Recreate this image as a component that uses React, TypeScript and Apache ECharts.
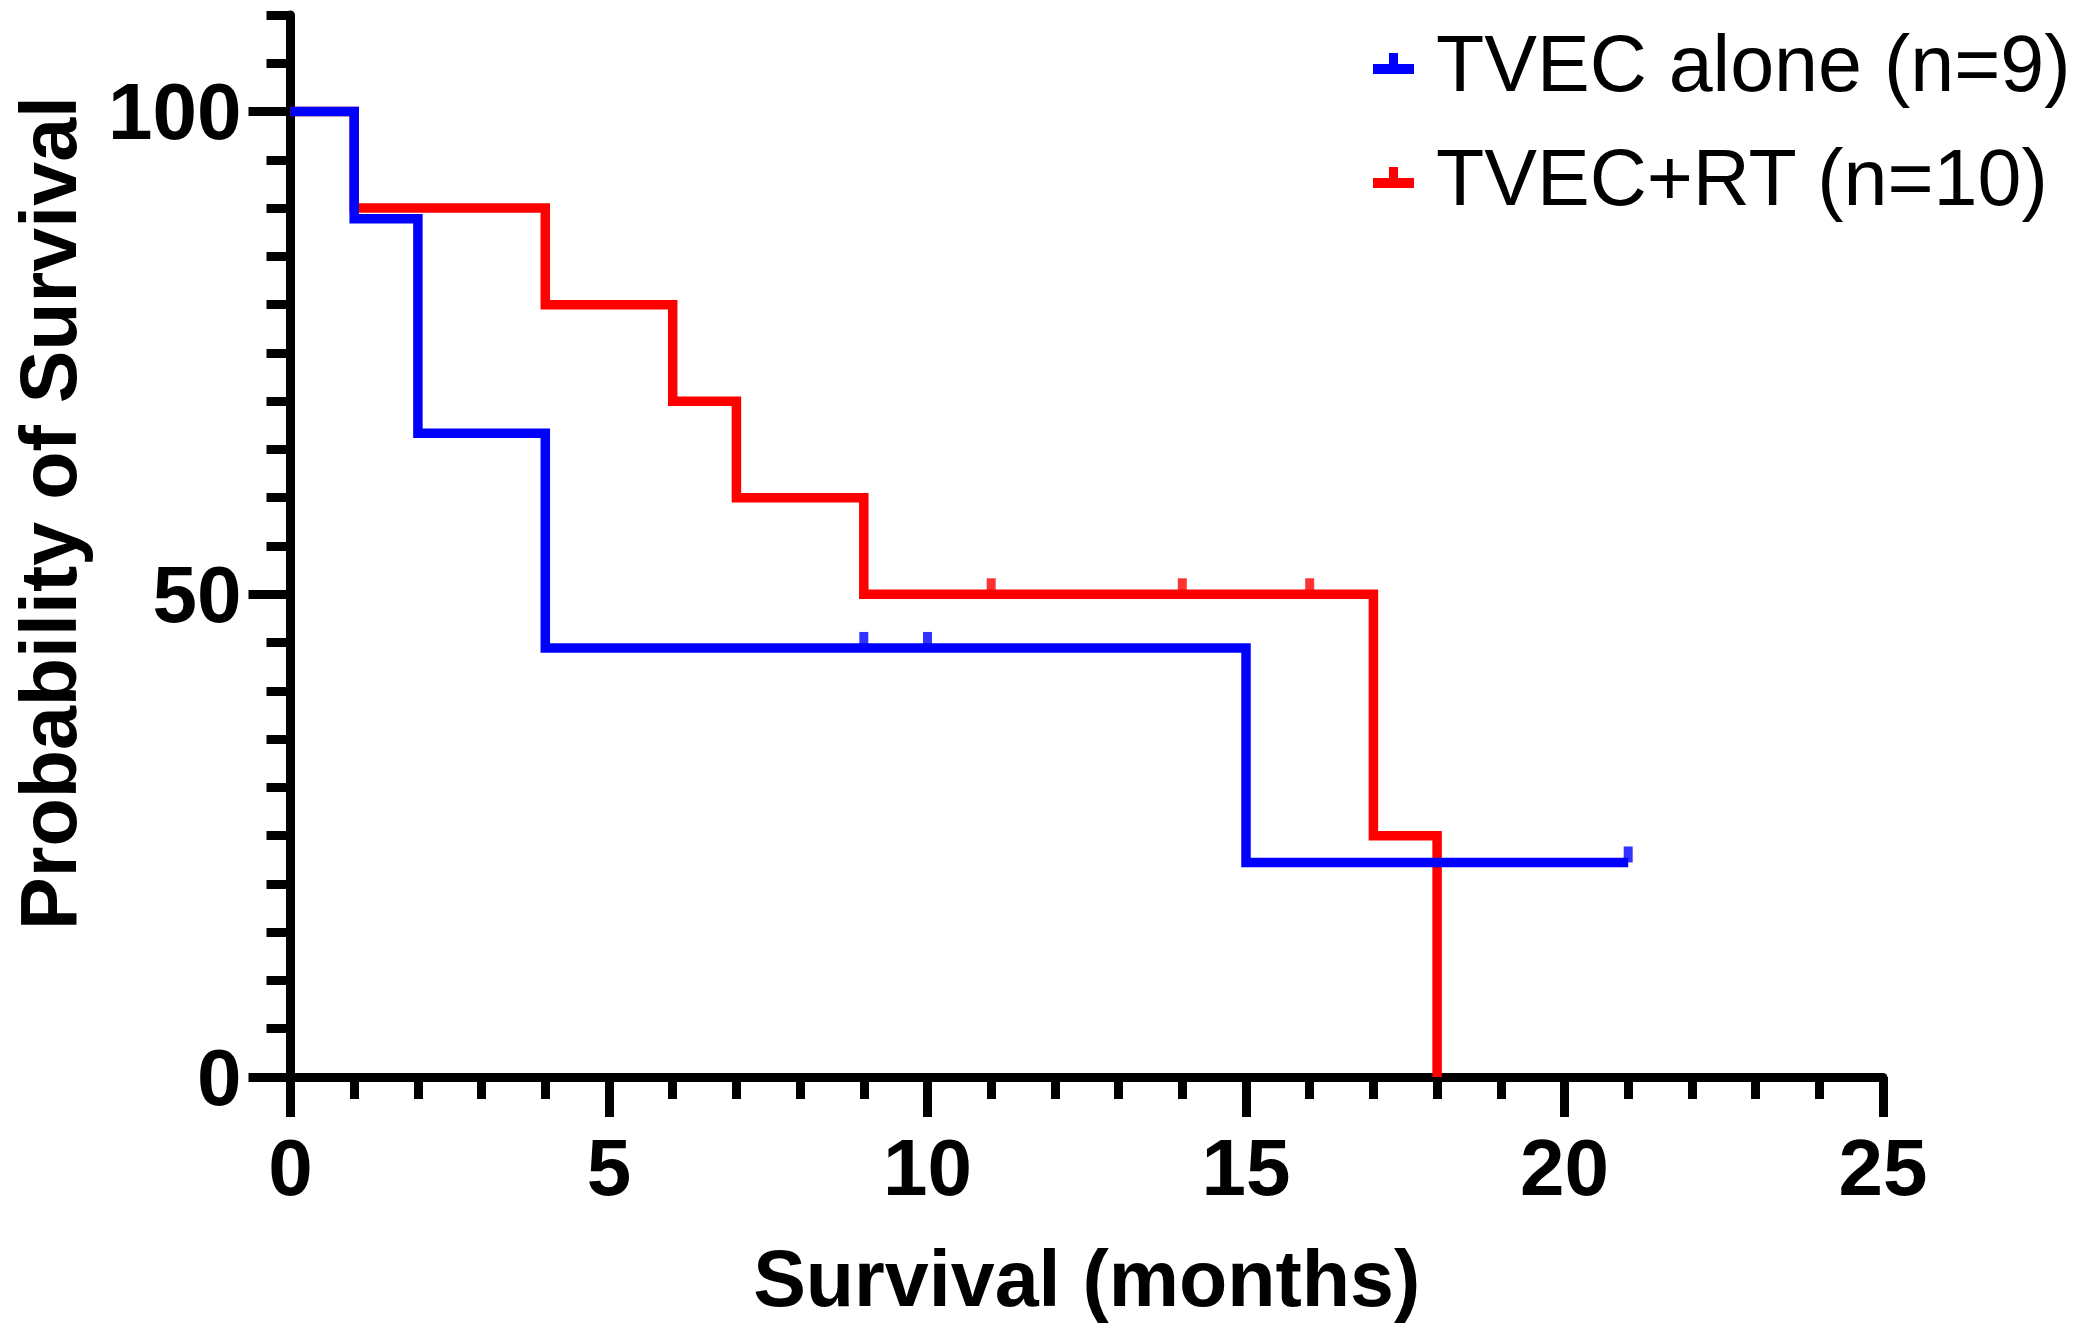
import React, { useEffect, useRef } from 'react';
import * as echarts from 'echarts';

const seriesNames = ['TVEC alone (n=9)', 'TVEC+RT (n=10)'];
const seriesColors = ['#0000ff', '#ff0000'];

// Kaplan-Meier steps: [month, survival %]
const tvecAloneSteps = [[0, 100], [1, 88.89], [2, 66.67], [4, 44.44], [15, 22.22], [21, 22.22]];
const tvecAloneCensored = [[9, 44.44], [10, 44.44], [21, 22.22]];
const tvecRtSteps = [[0, 100], [1, 90], [4, 80], [6, 70], [7, 60], [9, 50], [17, 25], [18, 0]];
const tvecRtCensored = [[11, 50], [14, 50], [16, 50]];

const yLabelValues = [0, 50, 100];
const yMinorTickValues = [5, 10, 15, 20, 25, 30, 35, 40, 45, 55, 60, 65, 70, 75, 80, 85, 90, 95, 105, 110];

const xTitle = 'Survival (months)';
const yTitle = 'Probability of Survival';

const FONT = "'Liberation Sans', Arial, sans-serif";
const legendIcon = 'path://M0,11H41V21H0Z M16,0H25V11H16Z';

export default function App() {
  const ref = useRef<HTMLDivElement>(null);
  useEffect(() => {
    document.body.style.margin = '0';
    document.body.style.overflow = 'hidden';
    const chart = echarts.init(ref.current as HTMLDivElement, null, { renderer: 'svg' });
    const lineSeries = (name: string, color: string, data: number[][], z: number) => ({
      name,
      type: 'line',
      step: 'end',
      data,
      symbol: 'none',
      showSymbol: false,
      clip: false,
      z,
      lineStyle: { color, width: 9.5, join: 'miter', cap: 'butt' },
      itemStyle: { color },
      emphasis: { disabled: true },
    });
    const censorSeries = (name: string, color: string, data: number[][], z: number) => ({
      name,
      type: 'scatter',
      data,
      symbol: 'rect',
      symbolSize: [9, 16],
      symbolOffset: [0, -8],
      clip: false,
      z,
      itemStyle: { color },
      emphasis: { disabled: true },
    });
    chart.setOption({
      animation: false,
      backgroundColor: '#ffffff',
      grid: { left: 290.5, top: 15, width: 1592.5, height: 1062, containLabel: false },
      legend: {
        orient: 'vertical',
        left: 1373,
        top: 23,
        padding: 0,
        itemWidth: 41,
        itemHeight: 21,
        itemGap: 33,
        selectedMode: false,
        data: [
          { name: seriesNames[0], icon: legendIcon },
          { name: seriesNames[1], icon: legendIcon },
        ],
        itemStyle: { borderWidth: 0 },
        textStyle: { fontSize: 79, fontFamily: FONT, color: '#000', lineHeight: 81, padding: [0, 0, 0, 17] },
      },
      xAxis: {
        type: 'value',
        min: 0,
        max: 25,
        interval: 5,
        name: xTitle,
        nameLocation: 'middle',
        nameGap: 162,
        nameTextStyle: { fontSize: 79, fontWeight: 'bold', fontFamily: FONT, color: '#000' },
        axisLine: { show: true, onZero: false, lineStyle: { color: '#000', width: 9 } },
        axisTick: { show: true, length: 40, lineStyle: { color: '#000', width: 9 } },
        minorTick: { show: true, splitNumber: 5, length: 22, lineStyle: { color: '#000', width: 9 } },
        axisLabel: { fontSize: 80, fontWeight: 'bold', fontFamily: FONT, color: '#000', margin: 50 },
        splitLine: { show: false },
      },
      yAxis: [
        {
          type: 'value',
          min: 0,
          max: 110,
          position: 'left',
          name: yTitle,
          nameLocation: 'middle',
          nameGap: 203,
          nameTextStyle: { fontSize: 79, fontWeight: 'bold', fontFamily: FONT, color: '#000', padding: [0, 0, 0, 66] },
          axisLine: { show: true, onZero: false, lineStyle: { color: '#000', width: 9 } },
          axisTick: { show: true, customValues: yLabelValues, length: 42, lineStyle: { color: '#000', width: 9 } },
          axisLabel: { customValues: yLabelValues, fontSize: 80, fontWeight: 'bold', fontFamily: FONT, color: '#000', margin: 49 },
          splitLine: { show: false },
        },
        {
          type: 'value',
          min: 0,
          max: 110,
          position: 'left',
          offset: 0,
          axisLine: { show: false },
          axisTick: { show: true, customValues: yMinorTickValues, length: 24, lineStyle: { color: '#000', width: 9 } },
          axisLabel: { show: false },
          splitLine: { show: false },
        },
      ],
      series: [
        lineSeries(seriesNames[1], seriesColors[1], tvecRtSteps, 2),
        lineSeries(seriesNames[0], seriesColors[0], tvecAloneSteps, 3),
        censorSeries('TVEC+RT censored', seriesColors[1], tvecRtCensored, 4),
        censorSeries('TVEC alone censored', seriesColors[0], tvecAloneCensored, 4),
      ],
    });
    return () => chart.dispose();
  }, []);
  return <div ref={ref} style={{ width: 2085, height: 1326 }} />;
}
